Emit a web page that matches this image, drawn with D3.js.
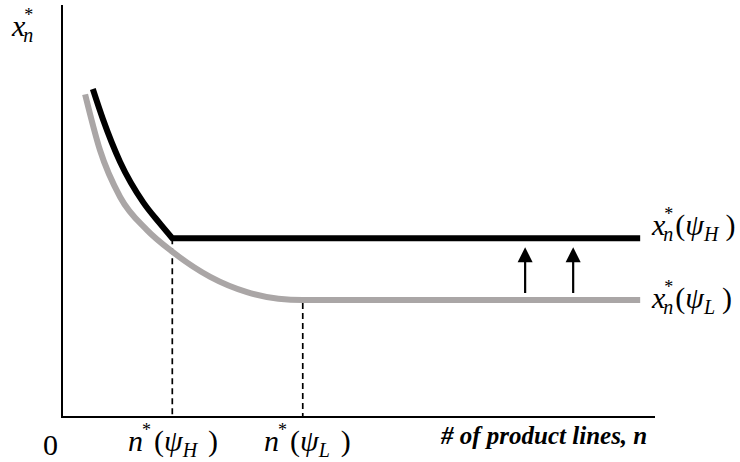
<!DOCTYPE html>
<html>
<head>
<meta charset="utf-8">
<script src="https://cdn.jsdelivr.net/npm/d3@7"></script>
<style>
  html, body { margin: 0; padding: 0; background: #fff; }
  svg { display: block; }
  text, tspan { font-family: "Liberation Serif", "Times New Roman", "DejaVu Serif", serif; fill: #000; }
</style>
</head>
<body>
<svg id="chart" width="740" height="462"></svg>
<script>
// ---- data (conceptual units: n on 0..100, x* on 0..100) ----
const nDomain = [0, 100];
const xDomain = [0, 100];
// high-psi curve (black): declining part, kink at n*(psi_H), then flat
const highCurveN = [5.2, 6.9, 9.8, 13.7, 16.5, 18.6];
const highCurveX = [79.6, 72.3, 61.9, 52.1, 47.0, 43.4];
const highFlatEndN = 97.5;
// low-psi curve (gray): declining smoothly to a flat level at n*(psi_L)
const lowCurveN = [3.9, 6.4, 9.8, 14.3, 18.7, 25.0, 31.2, 36.5, 40.6, 97.5];
const lowCurveX = [78.3, 64.8, 53.4, 45.4, 40.0, 34.0, 30.3, 28.7, 28.4, 28.4];
const nStarH = 18.6;
const nStarL = 40.6;
const arrowN = [78.1, 86.2];
const axisZeroLabel = "0";
const xAxisTitle = "# of product lines, n";
const seriesLetters = ["H", "L"];

// ---- scales ----
const svg = d3.select("#chart");
const x = d3.scaleLinear().domain(nDomain).range([62, 655]);
const y = d3.scaleLinear().domain(xDomain).range([417, 5]);

const highLevel = highCurveX[highCurveX.length - 1];
const lowLevel = lowCurveX[lowCurveX.length - 1];

// ---- axes ----
svg.append("line").attr("x1", x(0)).attr("x2", x(0)).attr("y1", y(100)).attr("y2", y(0))
  .attr("stroke", "#000").attr("stroke-width", 2);
svg.append("line").attr("x1", x(0) - 1).attr("x2", x(100)).attr("y1", y(0)).attr("y2", y(0))
  .attr("stroke", "#000").attr("stroke-width", 2);

// ---- dashed drop lines ----
svg.append("line").attr("x1", x(nStarH)).attr("x2", x(nStarH))
  .attr("y1", y(highLevel)).attr("y2", y(0))
  .attr("stroke", "#000").attr("stroke-width", 1.7).attr("stroke-dasharray", "6,4");
svg.append("line").attr("x1", x(nStarL)).attr("x2", x(nStarL))
  .attr("y1", y(lowLevel) + 3).attr("y2", y(0))
  .attr("stroke", "#000").attr("stroke-width", 1.7).attr("stroke-dasharray", "6,4");

// ---- curves ----
const lowPts = lowCurveN.map((n, i) => [n, lowCurveX[i]]);
const highPts = highCurveN.map((n, i) => [n, highCurveX[i]]);
const lineGen = d3.line().x(d => x(d[0])).y(d => y(d[1])).curve(d3.curveMonotoneX);

svg.append("path").attr("d", lineGen(lowPts))
  .attr("fill", "none").attr("stroke", "#aaa6a6").attr("stroke-width", 6);

svg.append("path")
  .attr("d", lineGen(highPts) + "L" + x(highFlatEndN) + "," + y(highLevel))
  .attr("fill", "none").attr("stroke", "#000").attr("stroke-width", 6)
  .attr("stroke-linejoin", "miter");

// ---- arrows ----
const arrowG = svg.append("g");
arrowN.forEach(n => {
  const ax = x(n);
  const yBottom = y(lowLevel) - 7;
  const yTip = y(highLevel) + 9;
  arrowG.append("line").attr("x1", ax).attr("x2", ax)
    .attr("y1", yBottom).attr("y2", yTip + 12)
    .attr("stroke", "#000").attr("stroke-width", 2.2);
  arrowG.append("path")
    .attr("d", `M${ax},${yTip}L${ax - 7.5},${yTip + 15}L${ax + 7.5},${yTip + 15}Z`)
    .attr("fill", "#000");
});

// ---- math-like labels ----
const FS = 30, SUB = 20, STAR = 18;
function mathLabel(px, py, base, withSubN, letter, gapOpen, gapClose) {
  const t = svg.append("text").attr("x", px).attr("y", py).attr("font-size", FS);
  t.append("tspan").attr("font-style", "italic").text(base);
  t.append("tspan").attr("font-size", STAR).attr("dx", -1).attr("dy", -15).text("*");
  let back = 15;
  if (withSubN) {
    t.append("tspan").attr("font-style", "italic").attr("font-size", SUB)
      .attr("dx", -10).attr("dy", 21).text("n");
    back = -6;
  }
  if (letter) {
    t.append("tspan").attr("font-size", FS).attr("dx", gapOpen).attr("dy", back).text("(");
    t.append("tspan").attr("font-size", FS).attr("font-style", "italic").text("ψ");
    t.append("tspan").attr("font-size", SUB).attr("font-style", "italic")
      .attr("dx", 0).attr("dy", 6).text(letter);
    t.append("tspan").attr("font-size", FS).attr("dx", gapClose).attr("dy", -6).text(")");
  }
  return t;
}

// y-axis label
mathLabel(12, 36, "x", true, null, 0, 0);
// right series labels
mathLabel(652, y(highLevel) - 3, "x", true, seriesLetters[0], 2, 7);
mathLabel(652, y(lowLevel) + 8, "x", true, seriesLetters[1], 2, 7);

// x-axis labels
svg.append("text").attr("x", 43).attr("y", 455).attr("font-size", FS).text(axisZeroLabel);
mathLabel(128, 451, "n", false, seriesLetters[0], 3, 11);
mathLabel(264, 451, "n", false, seriesLetters[1], 3, 11);

svg.append("text").attr("x", 441).attr("y", 444)
  .attr("font-size", 25).attr("font-weight", "bold").attr("font-style", "italic")
  .text(xAxisTitle);
</script>
</body>
</html>
